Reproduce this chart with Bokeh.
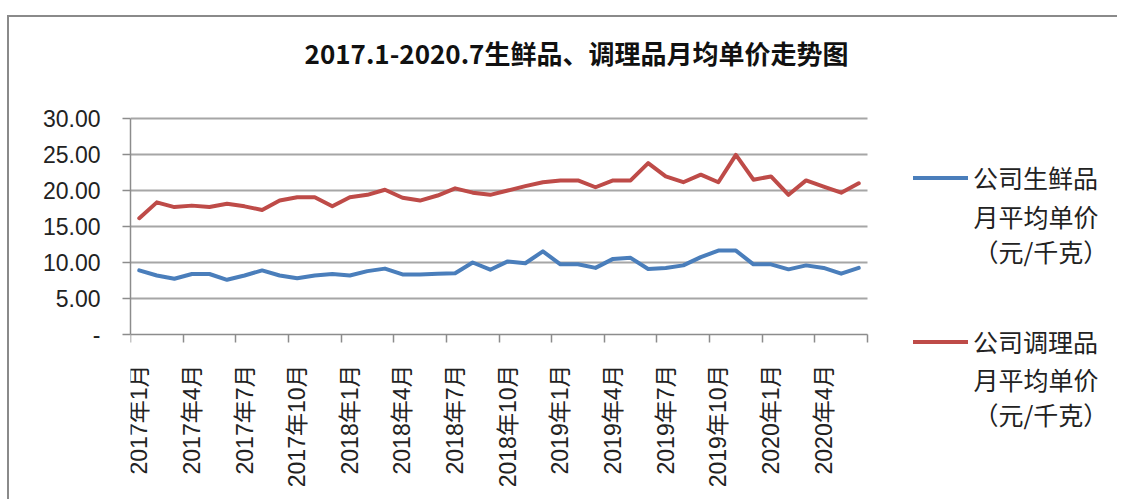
import math
from bokeh.plotting import figure
from bokeh.models import Range1d, FixedTicker, Legend, LegendItem, Label, ColumnDataSource
from bokeh.embed import file_html
from bokeh.resources import INLINE

months = [
    "2017年1月", "2017年2月", "2017年3月", "2017年4月", "2017年5月", "2017年6月",
    "2017年7月", "2017年8月", "2017年9月", "2017年10月", "2017年11月", "2017年12月",
    "2018年1月", "2018年2月", "2018年3月", "2018年4月", "2018年5月", "2018年6月",
    "2018年7月", "2018年8月", "2018年9月", "2018年10月", "2018年11月", "2018年12月",
    "2019年1月", "2019年2月", "2019年3月", "2019年4月", "2019年5月", "2019年6月",
    "2019年7月", "2019年8月", "2019年9月", "2019年10月", "2019年11月", "2019年12月",
    "2020年1月", "2020年2月", "2020年3月", "2020年4月", "2020年5月", "2020年6月",
]
fresh = [8.9, 8.2, 7.75, 8.4, 8.4, 7.6, 8.2, 8.9, 8.2, 7.8, 8.2, 8.4,
         8.2, 8.8, 9.15, 8.35, 8.35, 8.45, 8.5, 10.0, 9.0, 10.15, 9.9, 11.55,
         9.75, 9.75, 9.25, 10.5, 10.65, 9.1, 9.25, 9.6, 10.75, 11.65, 11.65, 9.75,
         9.75, 9.05, 9.6, 9.25, 8.45, 9.25]
prepared = [16.15, 18.35, 17.7, 17.9, 17.7, 18.15, 17.8, 17.3, 18.6, 19.05, 19.05, 17.8,
            19.05, 19.4, 20.1, 19.0, 18.6, 19.3, 20.3, 19.7, 19.4, 20.0, 20.6, 21.15,
            21.4, 21.4, 20.45, 21.4, 21.4, 23.8, 21.95, 21.15, 22.2, 21.15, 24.95, 21.5,
            21.95, 19.4, 21.4, 20.55, 19.7, 21.0]
y_ticks = [0, 5, 10, 15, 20, 25, 30]
y_labels = ["-", "5.00", "10.00", "15.00", "20.00", "25.00", "30.00"]
series_names = [["公司生鲜品", "月平均单价", "（元/千克）"],
                ["公司调理品", "月平均单价", "（元/千克）"]]
title_text = "2017.1-2020.7生鲜品、调理品月均单价走势图"

x_idx = list(range(len(months)))
src = ColumnDataSource(dict(x=x_idx, fresh=fresh, prepared=prepared))

GRAY = "#8c8c8c"
CJK = "'Liberation Sans', 'Noto Sans CJK SC', sans-serif"
CJK_ONLY = "'Noto Sans CJK SC', sans-serif"

# layout (pixels). The frame covers the whole canvas right of the y axis so that the
# title and legend (drawn inside the frame) are not clipped; the x axis sits at y = 0.
W, H = 1110, 484
LEFT = 121
AXIS_W, AXIS_H = 737, 216     # pixel size of the data area (0..30, 42 months)
AXIS_TOP = 101                # pixels from canvas top to the y = 30 line
n = len(months)
frame_w = W - LEFT
px_x = AXIS_W / n
px_y = AXIS_H / y_ticks[-1]
x_end = -0.5 + frame_w / px_x
y_end = y_ticks[-1] + AXIS_TOP / px_y
y_start = -(H - AXIS_TOP - AXIS_H) / px_y
FB = H - AXIS_TOP - AXIS_H    # pixels from frame bottom up to y = 0

p = figure(width=W, height=H,
           x_range=Range1d(-0.5, x_end), y_range=Range1d(y_start, y_end),
           output_backend="svg", toolbar_location=None,
           min_border_left=LEFT, min_border_right=0, min_border_top=0, min_border_bottom=0,
           styles={"border-top": "2px solid #8a8a8a", "border-left": "2px solid #8a8a8a",
                   "margin": "15px 0px 0px 7px"})
p.outline_line_color = None
p.background_fill_color = "white"
p.border_fill_color = "white"

# y axis
p.yaxis.bounds = (y_ticks[0], y_ticks[-1])
p.yaxis.ticker = FixedTicker(ticks=y_ticks)
p.yaxis.major_label_overrides = {t: l for t, l in zip(y_ticks, y_labels)}
p.yaxis.axis_line_color = GRAY
p.yaxis.axis_line_width = 1.5
p.yaxis.major_tick_line_color = GRAY
p.yaxis.major_tick_line_width = 1.5
p.yaxis.major_tick_out = 8
p.yaxis.major_tick_in = 0
p.yaxis.minor_tick_out = 0
p.yaxis.minor_tick_in = 0
p.yaxis.major_label_standoff = 22
p.yaxis.major_label_text_font = "Liberation Sans"
p.yaxis.major_label_text_font_size = "23px"
p.yaxis.major_label_text_color = "#222222"

# x axis (placed at y = 0)
label_pos = x_idx[::3]
bounds = [i - 0.5 for i in x_idx[::3]] + [n - 0.5]
p.xaxis.fixed_location = 0
p.xaxis.bounds = (-0.5, n - 0.5)
p.xaxis.ticker = FixedTicker(ticks=label_pos, minor_ticks=bounds)
p.xaxis.major_label_overrides = {i: months[i] for i in label_pos}
p.xaxis.major_label_orientation = math.pi / 2
p.xaxis.axis_line_color = GRAY
p.xaxis.axis_line_width = 1.5
p.xaxis.major_tick_out = 0
p.xaxis.major_tick_in = 0
p.xaxis.minor_tick_out = 8
p.xaxis.minor_tick_in = 0
p.xaxis.minor_tick_line_color = GRAY
p.xaxis.minor_tick_line_width = 1.5
p.xaxis.major_label_standoff = 22
p.xaxis.major_label_text_font = CJK
p.xaxis.major_label_text_font_size = "23px"
p.xaxis.major_label_text_color = "#222222"

# grid lines limited to the data area
p.xgrid.visible = False
p.ygrid.visible = False
grid_y = y_ticks[1:]
p.segment(x0=[-0.5] * len(grid_y), x1=[n - 0.5] * len(grid_y), y0=grid_y, y1=grid_y,
          line_color="#a6a6a6", line_width=2)

r1 = p.line("x", "fresh", source=src, line_color="#4A7EBB", line_width=4,
            line_join="round", line_cap="round")
r2 = p.line("x", "prepared", source=src, line_color="#BE4B48", line_width=4,
            line_join="round", line_cap="round")

# legend (first line of each name) + continuation lines as labels
legend = Legend(items=[LegendItem(label=series_names[0][0], renderers=[r1]),
                       LegendItem(label=series_names[1][0], renderers=[r2])],
                location=(783, FB - 25), orientation="vertical", padding=0, spacing=128,
                glyph_width=55, glyph_height=35, label_standoff=5, label_height=35,
                label_text_font=CJK_ONLY, label_text_font_size="25px",
                label_text_color="#222222",
                border_line_color=None, background_fill_alpha=0, margin=0)
p.add_layout(legend)

item_second_y = [119, -44]  # offset (from the y = 0 line) of the 2nd line of each item
for k, names in enumerate(series_names):
    for j, line_text in enumerate(names[1:]):
        p.add_layout(Label(x=843, y=FB + item_second_y[k] - 35 * j,
                           x_units="screen", y_units="screen",
                           text=line_text, text_align="left", text_baseline="middle",
                           text_font=CJK_ONLY, text_font_size="25px", text_color="#222222"))

title = Label(x=446, y=FB + 282, x_units="screen", y_units="screen", text=title_text,
              text_align="center", text_baseline="middle",
              text_font=CJK_ONLY, text_font_size="26px",
              text_font_style="bold", text_color="#111111")
p.add_layout(title)

open("out.html", "w").write(file_html(p, INLINE))
